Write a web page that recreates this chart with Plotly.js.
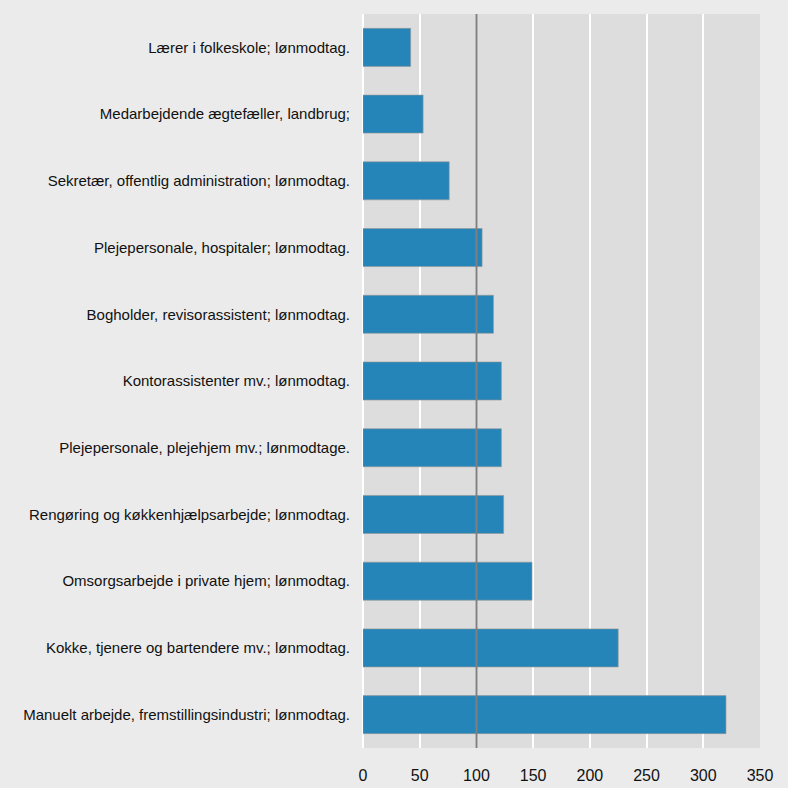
<!DOCTYPE html>
<html>
<head>
<meta charset="utf-8">
<script src="https://cdn.plot.ly/plotly-3.0.1.min.js"></script>
<style>html,body{margin:0;padding:0;background:#ebebeb;}</style>
</head>
<body>
<div id="chart" style="width:788px;height:788px;"></div>
<script>
const categories = [
  "Lærer i folkeskole; lønmodtag.",
  "Medarbejdende ægtefæller, landbrug;",
  "Sekretær, offentlig administration; lønmodtag.",
  "Plejepersonale, hospitaler; lønmodtag.",
  "Bogholder, revisorassistent; lønmodtag.",
  "Kontorassistenter mv.; lønmodtag.",
  "Plejepersonale, plejehjem mv.; lønmodtage.",
  "Rengøring og køkkenhjælpsarbejde; lønmodtag.",
  "Omsorgsarbejde i private hjem; lønmodtag.",
  "Kokke, tjenere og bartendere mv.; lønmodtag.",
  "Manuelt arbejde, fremstillingsindustri; lønmodtag."
];
const values = [42, 53, 76, 105, 115, 122, 122, 124, 149, 225, 320];
const tickValues = [0, 50, 100, 150, 200, 250, 300, 350];
const referenceValue = 100;

const font = "'Liberation Sans Narrow', 'Arial Narrow', 'Liberation Sans', Arial, sans-serif";

const trace = {
  type: "bar",
  orientation: "h",
  y: categories,
  x: values,
  marker: {color: "#2685b8", line: {color: "rgba(150,150,150,0.6)", width: 1}},
  hoverinfo: "none"
};

const layout = {
  width: 788, height: 788,
  paper_bgcolor: "#ebebeb",
  plot_bgcolor: "#dddddd",
  margin: {l: 363, r: 28, t: 14, b: 40},
  bargap: 0.43,
  showlegend: false,
  font: {family: font, size: 15, color: "#111"},
  xaxis: {
    range: [0, 350],
    tickvals: tickValues,
    ticktext: tickValues.map(String),
    showgrid: true, gridcolor: "#ffffff", gridwidth: 2,
    zeroline: true, zerolinecolor: "#ffffff", zerolinewidth: 2,
    showline: false, ticks: "",
    ticklabelstandoff: 16,
    tickfont: {family: font, size: 16, color: "#111"},
    fixedrange: true
  },
  yaxis: {
    autorange: "reversed",
    showgrid: false, zeroline: false, showline: false, ticks: "",
    ticklabelstandoff: 12,
    tickfont: {family: font, size: 15, color: "#111"},
    fixedrange: true
  },
  shapes: [{
    type: "line", xref: "x", yref: "paper",
    x0: referenceValue, x1: referenceValue, y0: 0, y1: 1,
    line: {color: "#7f7f7f", width: 2},
    layer: "above"
  }]
};

Plotly.newPlot("chart", [trace], layout, {displayModeBar: false, staticPlot: true});
</script>
</body>
</html>
